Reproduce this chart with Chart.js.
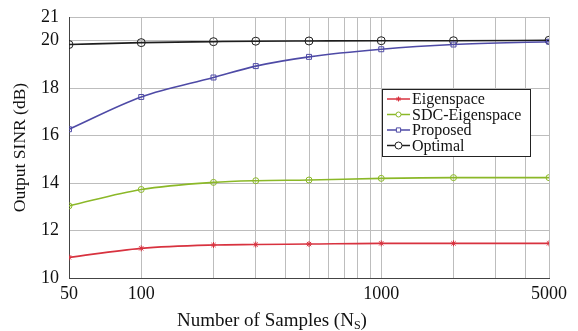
<!DOCTYPE html>
<html>
<head>
<meta charset="utf-8">
<script src="https://cdn.jsdelivr.net/npm/chart.js@4"></script>
<style>
  html, body { margin: 0; padding: 0; background: #fff; }
  #wrap { width: 578px; height: 331px; }
</style>
</head>
<body>
<div id="wrap"><canvas id="mycanvas" width="578" height="331"></canvas></div>
<script>
const samples = [50, 100, 200, 300, 500, 1000, 2000, 5000];
const eigenspace = [10.87, 11.25, 11.39, 11.41, 11.43, 11.46, 11.46, 11.46];
const sdcEigenspace = [13.04, 13.73, 14.03, 14.10, 14.13, 14.20, 14.23, 14.23];
const proposed = [16.27, 17.63, 18.45, 18.93, 19.32, 19.64, 19.84, 19.96];
const optimal = [19.84, 19.92, 19.96, 19.98, 19.99, 20.0, 20.0, 20.02];

const gridTicks = [50, 100, 200, 300, 400, 500, 600, 700, 800, 900, 1000, 2000, 3000, 4000, 5000];
const labelledTicks = [50, 100, 1000, 5000];
const yTicks = [10, 12, 14, 16, 18, 20, 21];

const serif = '"Liberation Serif", "DejaVu Serif", serif';

const toPoints = (ys) => samples.map((x, i) => ({ x: x, y: ys[i] }));

const series = [
  { label: 'Eigenspace', data: eigenspace, color: '#d8323f', style: 'star', radius: 3 },
  { label: 'SDC-Eigenspace', data: sdcEigenspace, color: '#8bb828', style: 'circle', radius: 3 },
  { label: 'Proposed', data: proposed, color: '#4e4aa6', style: 'rect', radius: 3.5 },
  { label: 'Optimal', data: optimal, color: '#1e1e1e', style: 'circle', radius: 4 },
];

// legend box drawn by hand: line + marker + label like the matlab one
const legendBox = {
  id: 'legendBox',
  afterDatasetsDraw(chart) {
    const ctx = chart.ctx;
    const x0 = 382, y0 = 89, w = 148, h = 67;
    ctx.save();
    ctx.fillStyle = '#fff';
    ctx.fillRect(x0, y0, w, h);
    ctx.strokeStyle = '#222';
    ctx.lineWidth = 1;
    ctx.strokeRect(x0 + 0.5, y0 + 0.5, w, h);
    ctx.font = '16px ' + serif;
    ctx.textBaseline = 'middle';
    chart.data.datasets.forEach((ds, i) => {
      const y = y0 + 10 + i * 15.5;
      ctx.strokeStyle = ds.borderColor;
      ctx.lineWidth = 1.5;
      ctx.beginPath();
      ctx.moveTo(387, y);
      ctx.lineTo(410, y);
      ctx.stroke();
      ctx.fillStyle = '#fff';
      ctx.lineWidth = 1;
      Chart.helpers.drawPoint(ctx, {
        pointStyle: ds.pointStyle, radius: ds.pointRadius - 0.5, borderWidth: 1
      }, 398.5, y);
      ctx.fillStyle = '#111';
      ctx.fillText(ds.label, 412, y + 1);
    });
    ctx.restore();
  }
};

// x title with subscript S
const xTitle = {
  id: 'xTitle',
  afterDraw(chart) {
    const ctx = chart.ctx;
    ctx.save();
    ctx.fillStyle = '#111';
    ctx.textBaseline = 'alphabetic';
    const big = '19px ' + serif, small = '12px ' + serif;
    const a = 'Number of Samples (N', s = 'S', b = ')';
    ctx.font = big;
    const wa = ctx.measureText(a).width, wb = ctx.measureText(b).width;
    ctx.font = small;
    const ws = ctx.measureText(s).width;
    let x = 272 - (wa + ws + wb) / 2;
    const y = 326;
    ctx.font = big;
    ctx.fillText(a, x, y);
    x += wa;
    ctx.font = small;
    ctx.fillText(s, x, y + 3);
    x += ws;
    ctx.font = big;
    ctx.fillText(b, x, y);
    ctx.restore();
  }
};

new Chart(document.getElementById('mycanvas'), {
  type: 'line',
  data: {
    datasets: series.map((s) => ({
      label: s.label,
      data: toPoints(s.data),
      borderColor: s.color,
      backgroundColor: 'rgba(0,0,0,0)',
      pointBorderColor: s.color,
      pointBackgroundColor: 'rgba(0,0,0,0)',
      pointStyle: s.style,
      pointRadius: s.radius,
      pointBorderWidth: 1,
      borderWidth: 1.6,
      cubicInterpolationMode: 'monotone',
      fill: false,
    })),
  },
  options: {
    responsive: false,
    animation: false,
    layout: { padding: { top: 17, right: 29, left: 0, bottom: 0 } },
    plugins: {
      legend: { display: false },
      tooltip: { enabled: false },
    },
    scales: {
      x: {
        type: 'logarithmic',
        min: 50,
        max: 5000,
        afterBuildTicks: (scale) => { scale.ticks = gridTicks.map((v) => ({ value: v })); },
        afterFit: (scale) => { scale.height = 53; },
        ticks: {
          autoSkip: false,
          maxRotation: 0,
          padding: 5,
          color: '#111',
          font: { family: serif, size: 18 },
          callback: (v) => (labelledTicks.includes(v) ? String(v) : ''),
        },
        grid: { color: '#bdbdbd', lineWidth: 1, drawTicks: false },
        border: { color: '#444', width: 1 },
      },
      y: {
        min: 10,
        max: 21,
        afterBuildTicks: (scale) => { scale.ticks = yTicks.map((v) => ({ value: v })); },
        afterFit: (scale) => { scale.width = 69; },
        ticks: {
          padding: 10,
          color: '#111',
          font: { family: serif, size: 18, lineHeight: 0.6 },
        },
        grid: { color: '#bdbdbd', lineWidth: 1, drawTicks: false },
        border: { color: '#444', width: 1 },
        title: {
          display: true,
          text: 'Output SINR (dB)',
          color: '#111',
          font: { family: serif, size: 17.5 },
          padding: { top: 10, bottom: 0 },
        },
      },
    },
  },
  plugins: [legendBox, xTitle],
});
</script>
</body>
</html>
